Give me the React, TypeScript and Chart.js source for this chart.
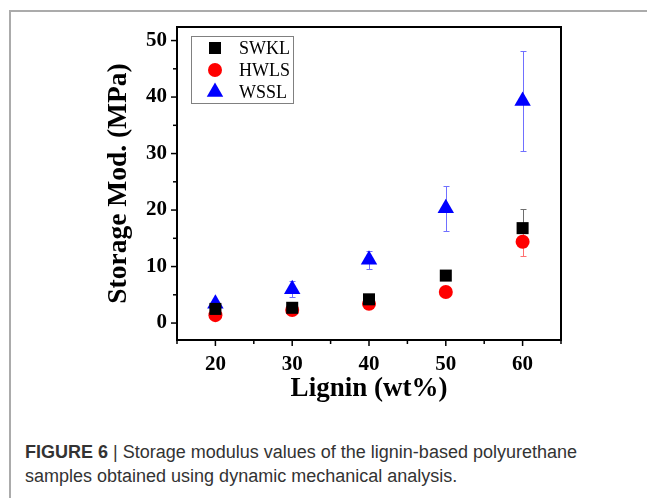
import React, { useEffect, useRef } from "react";
import { Chart, registerables } from "chart.js";

Chart.register(...registerables);

// ---- data ----
const lignin = [20, 30, 40, 50, 60];
const swklValues = [2.5, 2.7, 4.2, 8.4, 16.8];
const swklErrors = [0.3, 0.4, 0.4, 0.5, 3.3];
const hwlsValues = [1.4, 2.3, 3.4, 5.5, 14.4];
const hwlsErrors = [0.3, 0.4, 0.4, 0.7, 2.5];
const wsslValues = [3.4, 6.0, 11.2, 20.3, 39.3];
const wsslErrors = [0.4, 1.4, 1.6, 4.0, 8.8];
const xTickLabels = [20, 30, 40, 50, 60];
const yTickLabels = [0, 10, 20, 30, 40, 50];
const seriesNames = ["SWKL", "HWLS", "WSSL"];

const SERIF = "'Liberation Serif', 'Times New Roman', serif";

const errorBarPlugin = {
  id: "errorBars",
  beforeDatasetsDraw(chart: any) {
    const { ctx, scales } = chart;
    ctx.save();
    chart.data.datasets.forEach((ds: any) => {
      const errs: number[] = ds.errors;
      ctx.strokeStyle = ds.errorColor;
      ctx.lineWidth = 1;
      ds.data.forEach((p: any, i: number) => {
        const x = Math.round(scales.x.getPixelForValue(p.x)) + 0.5;
        const yTop = Math.round(scales.y.getPixelForValue(p.y + errs[i])) + 0.5;
        const yBot = Math.round(scales.y.getPixelForValue(p.y - errs[i])) + 0.5;
        ctx.beginPath();
        ctx.moveTo(x, yTop);
        ctx.lineTo(x, yBot);
        ctx.moveTo(x - 3, yTop);
        ctx.lineTo(x + 3, yTop);
        ctx.moveTo(x - 3, yBot);
        ctx.lineTo(x + 3, yBot);
        ctx.stroke();
      });
    });
    ctx.restore();
  },
};

function drawMarker(ctx: CanvasRenderingContext2D, style: string, x: number, y: number, color: string) {
  ctx.fillStyle = color;
  ctx.beginPath();
  if (style === "rect") {
    ctx.rect(x - 6, y - 6, 12, 12);
  } else if (style === "circle") {
    ctx.arc(x, y, 7, 0, Math.PI * 2);
  } else {
    const r = 9.5;
    ctx.moveTo(x, y - r);
    ctx.lineTo(x + r * Math.sin((2 * Math.PI) / 3), y - r * Math.cos((2 * Math.PI) / 3));
    ctx.lineTo(x + r * Math.sin((4 * Math.PI) / 3), y - r * Math.cos((4 * Math.PI) / 3));
    ctx.closePath();
  }
  ctx.fill();
}

const framePlugin = {
  id: "frameAndTicks",
  afterDraw(chart: any) {
    const { ctx, chartArea: a, scales } = chart;
    ctx.save();
    ctx.strokeStyle = "#000";
    ctx.lineWidth = 2;
    ctx.strokeRect(a.left, a.top, a.right - a.left, a.bottom - a.top);
    ctx.lineWidth = 1.5;
    const xs: number[] = [];
    xTickLabels.forEach((v) => { xs.push(v); xs.push(v + 5); });
    xs.push(xTickLabels[0] - 5);
    xs.forEach((v) => {
      const px = scales.x.getPixelForValue(v);
      if (px < a.left - 0.5 || px > a.right + 0.5) return;
      const len = v % 10 === 0 ? 6 : 4;
      ctx.beginPath();
      ctx.moveTo(px, a.bottom);
      ctx.lineTo(px, a.bottom + len);
      ctx.stroke();
    });
    const ys: number[] = [];
    yTickLabels.forEach((v) => { ys.push(v); ys.push(v + 5); });
    ys.forEach((v) => {
      const py = scales.y.getPixelForValue(v);
      if (py < a.top - 0.5 || py > a.bottom + 0.5) return;
      const len = v % 10 === 0 ? 6 : 4;
      ctx.beginPath();
      ctx.moveTo(a.left, py);
      ctx.lineTo(a.left - len, py);
      ctx.stroke();
    });

    // legend
    const lx = a.left + 14;
    const ly = a.top + 9;
    ctx.strokeStyle = "#808080";
    ctx.lineWidth = 1;
    ctx.strokeRect(lx + 0.5, ly + 0.5, 102, 67);
    ctx.font = `18px ${SERIF}`;
    ctx.textBaseline = "middle";
    ctx.textAlign = "left";
    chart.data.datasets.forEach((ds: any, i: number) => {
      const cy = ly + 12 + i * 22;
      drawMarker(ctx, ds.pointStyle, lx + 24, cy, ds.backgroundColor);
      ctx.fillStyle = "#000";
      ctx.fillText(ds.label, lx + 48, cy + 1);
    });
    ctx.restore();
  },
};

export default function App() {
  const canvasRef = useRef<HTMLCanvasElement | null>(null);

  useEffect(() => {
    if (!canvasRef.current) return;
    const mk = (vals: number[]) => vals.map((v, i) => ({ x: lignin[i], y: v }));
    const chart = new Chart(canvasRef.current, {
      type: "scatter",
      data: {
        datasets: [
          {
            label: seriesNames[0],
            data: mk(swklValues),
            errors: swklErrors,
            errorColor: "#6e6e6e",
            pointStyle: "rect",
            pointRadius: 8.5,
            backgroundColor: "#000000",
            borderColor: "#000000",
            borderWidth: 0,
          } as any,
          {
            label: seriesNames[1],
            data: mk(hwlsValues),
            errors: hwlsErrors,
            errorColor: "#ff7070",
            pointStyle: "circle",
            pointRadius: 7,
            backgroundColor: "#ff0000",
            borderColor: "#ff0000",
            borderWidth: 0,
          } as any,
          {
            label: seriesNames[2],
            data: mk(wsslValues),
            errors: wsslErrors,
            errorColor: "#7070ff",
            pointStyle: "triangle",
            pointRadius: 9.5,
            backgroundColor: "#0000ff",
            borderColor: "#0000ff",
            borderWidth: 0,
          } as any,
        ],
      },
      options: {
        responsive: false,
        animation: false,
        layout: { padding: { top: 27, right: 86, left: 0, bottom: 0 } },
        plugins: { legend: { display: false }, tooltip: { enabled: false } },
        scales: {
          x: {
            type: "linear",
            min: 15,
            max: 65,
            grid: { display: false, drawTicks: false },
            border: { display: false },
            afterBuildTicks: (s: any) => { s.ticks = xTickLabels.map((v) => ({ value: v })); },
            afterFit: (s: any) => { s.height = 80; },
            ticks: {
              color: "#000",
              padding: 12,
              font: { family: SERIF, size: 21, weight: "bold" },
            },
            title: {
              display: true,
              text: "Lignin (wt%)",
              color: "#000",
              font: { family: SERIF, size: 27, weight: "bold" },
              padding: { top: 0, bottom: 15 },
            },
          },
          y: {
            type: "linear",
            min: -3,
            max: 52.4,
            grid: { display: false, drawTicks: false },
            border: { display: false },
            afterBuildTicks: (s: any) => { s.ticks = yTickLabels.map((v) => ({ value: v })); },
            afterFit: (s: any) => { s.width = 177; },
            ticks: {
              color: "#000",
              padding: 10,
              font: { family: SERIF, size: 21, weight: "bold" },
            },
            title: {
              display: true,
              text: "Storage Mod. (MPa)",
              color: "#000",
              font: { family: SERIF, size: 27.5, weight: "bold" },
              padding: { top: 102, bottom: 0 },
            },
          },
        },
      },
      plugins: [errorBarPlugin, framePlugin],
    } as any);
    return () => chart.destroy();
  }, []);

  return (
    <div style={{ position: "absolute", left: 0, top: 0, width: 647, height: 498, background: "#fff", overflow: "hidden" }}>
      <div
        style={{
          position: "absolute",
          left: 9,
          top: 10,
          width: 700,
          height: 600,
          borderTop: "2px solid #ababab",
          borderLeft: "2px solid #ababab",
        }}
      />
      <canvas
        ref={canvasRef}
        width={647}
        height={420}
        style={{ position: "absolute", left: 0, top: 0, width: 647, height: 420 }}
      />
      <div
        style={{
          position: "absolute",
          left: 25,
          top: 440,
          fontFamily: "'Liberation Sans', Arial, sans-serif",
          fontSize: 18,
          lineHeight: "24px",
          color: "#333",
          whiteSpace: "nowrap",
        }}
      >
        <span style={{ fontWeight: "bold" }}>FIGURE 6</span> | Storage modulus values of the lignin-based polyurethane
        <br />
        samples obtained using dynamic mechanical analysis.
      </div>
    </div>
  );
}
